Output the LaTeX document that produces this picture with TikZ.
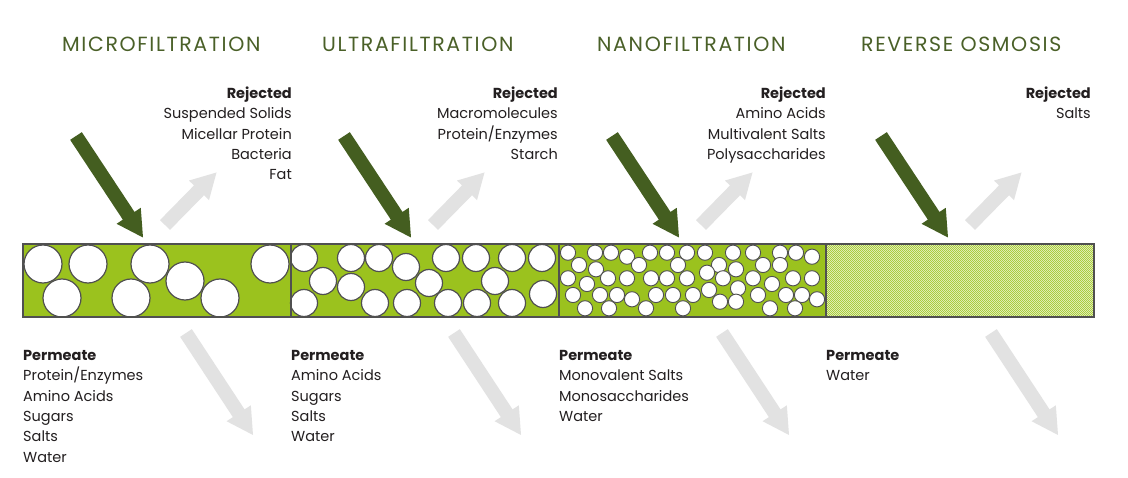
\documentclass[tikz,border=0pt]{standalone}
\usepackage{fontspec}
\setmainfont{Poppins}
\newfontfamily\titlefont[LetterSpace=8]{Poppins}
\usetikzlibrary{calc,patterns}
\definecolor{titlegreen}{RGB}{74,96,40}
\definecolor{arrowgreen}{RGB}{68,94,32}
\definecolor{stripgreen}{RGB}{155,194,30}
\definecolor{lightarrow}{RGB}{226,226,226}
\definecolor{labeltext}{RGB}{35,31,32}
\definecolor{outline}{RGB}{80,80,80}
\definecolor{rolight}{RGB}{232,242,196}
\definecolor{rodark}{RGB}{170,205,64}
\pgfdeclarepatternformonly{finechecker}{\pgfpointorigin}{\pgfqpoint{2.4pt}{2.4pt}}{\pgfqpoint{2.4pt}{2.4pt}}{%
  \pgfpathrectangle{\pgfpointorigin}{\pgfqpoint{1.2pt}{1.2pt}}%
  \pgfpathrectangle{\pgfqpoint{1.2pt}{1.2pt}}{\pgfqpoint{1.2pt}{1.2pt}}%
  \pgfusepath{fill}}
\newcommand\blockarrow[6]{%
  \coordinate (#2h) at ($(#3)!#4!(#2)$);
  \fill[#1] ($(#2)!#6!90:(#3)$) -- ($(#2h)!#6!90:(#3)$) -- ($(#2h)!#5!90:(#3)$)
    -- (#3) -- ($(#2h)!#5!-90:(#3)$) -- ($(#2h)!#6!-90:(#3)$) -- ($(#2)!#6!-90:(#3)$) -- cycle;}
\tikzset{
  title/.style={anchor=base west, inner sep=0pt, text=titlegreen, font=\titlefont\fontsize{20.5}{24}\selectfont},
  rejlist/.style={anchor=north east, inner sep=0pt, align=right, text=labeltext, font=\fontsize{14.5}{20.4}\selectfont},
  permlist/.style={anchor=north west, inner sep=0pt, align=left, text=labeltext, font=\fontsize{14.5}{20.4}\selectfont},
  pore/.style={fill=white, draw=outline, line width=1.2pt},
}
\begin{document}
\begin{tikzpicture}[x=1pt,y=-1pt]
\useasboundingbox (0,0) rectangle (1128,478);
\fill[white] (0,0) rectangle (1128,478);
% titles
\node[title] (t1) at (62,51.7) {MICROFILTRATION};
\node[title] (t2) at (322,51.7) {ULTRAFILTRATION};
\node[title] (t3) at (597,51.7) {NANOFILTRATION};
\node[title] (t4) at (861,51.7) {REVERSE OSMOSIS};
% rejected lists
\node[rejlist] (r1) at (292,86.5) {\textbf{Rejected}\\Suspended Solids\\Micellar Protein\\Bacteria\\Fat};
\node[rejlist] (r2) at (558,86.5) {\textbf{Rejected}\\Macromolecules\\Protein/Enzymes\\Starch};
\node[rejlist] (r3) at (826,86.5) {\textbf{Rejected}\\Amino Acids\\Multivalent Salts\\Polysaccharides};
\node[rejlist] (r4) at (1091,86.5) {\textbf{Rejected}\\Salts};
% permeate lists
\node[permlist] (p1) at (23,350) {\textbf{Permeate}\\Protein/Enzymes\\Amino Acids\\Sugars\\Salts\\Water};
\node[permlist] (p2) at (291,350) {\textbf{Permeate}\\Amino Acids\\Sugars\\Salts\\Water};
\node[permlist] (p3) at (559,350) {\textbf{Permeate}\\Monovalent Salts\\Monosaccharides\\Water};
\node[permlist] (p4) at (826,350) {\textbf{Permeate}\\Water};
% arrows
\foreach \k/\o in {1/0,2/268,3/536,4/805}{
  \coordinate (feed\k) at (76+\o,136);
  \coordinate (feedtip\k) at (143+\o,237.5);
  \coordinate (rej\k) at (165+\o,225);
  \coordinate (rejtip\k) at (216.5+\o,172.5);
  \coordinate (perm\k) at (186+\o,333);
  \coordinate (permtip\k) at (253+\o,435);
  \blockarrow{lightarrow}{rej\k}{rejtip\k}{25pt}{14pt}{7pt}
  \blockarrow{lightarrow}{perm\k}{permtip\k}{26pt}{14.5pt}{7pt}
  \blockarrow{arrowgreen}{feed\k}{feedtip\k}{26pt}{14.5pt}{7pt}
}
% membrane strip
\fill[stripgreen] (23,244) rectangle (826,317);
\fill[rolight] (826,244) rectangle (1094,317);
\fill[pattern=finechecker, pattern color=rodark] (826,244) rectangle (1094,317);
\foreach \x/\y in {43/264,88/264,62/298,150/264,131/298,185/281,220/298,270/264}
  \draw[pore] (\x,\y) circle[radius=19];
\foreach \x/\y in {304/258,323/281,304/303,351/258,379/258,351/287,406/267,375/303,407/303,429/283,446/258,476/258,448/303,477/303,495/281,512/258,542/258,512/303,543/294}
  \draw[pore] (\x,\y) circle[radius=13.5];
\foreach \x/\y in {568/252.7,595/252.7,611/252.7,650/252.7,667/252.7,687/252.7,705/252.7,733/252.7,753/252.7,780/252.7,796/252.7,
  627/256.7,812/256.7,579/265,639/265,678/265,719/265,763/265,780/265,596/269.3,736/269.3,707/272.7,
  568/278.3,608/278.3,627/278.3,651/278.3,667/278.3,687/278.3,723/278.3,753/278.3,812/278.3,793/278.3,
  587/284,772/284,738/288.3,709/290,573/295,600/295,617/295,656/295,673/295,693/295,758/295,786/295,802/295,
  632/299.3,817/299.3,720/301.7,736/301.7,585/308.3,609/308.3,646/308.3,683/308.3,770/308.3,795/308.3}
  \draw[pore, line width=0.9pt] (\x,\y) circle[radius=7.6];
\draw[outline, line width=1.4pt] (23,244) rectangle (1094,317);
\foreach \x in {291,559,826} \draw[outline, line width=1.2pt] (\x,244) -- (\x,317);
\end{tikzpicture}
\end{document}
